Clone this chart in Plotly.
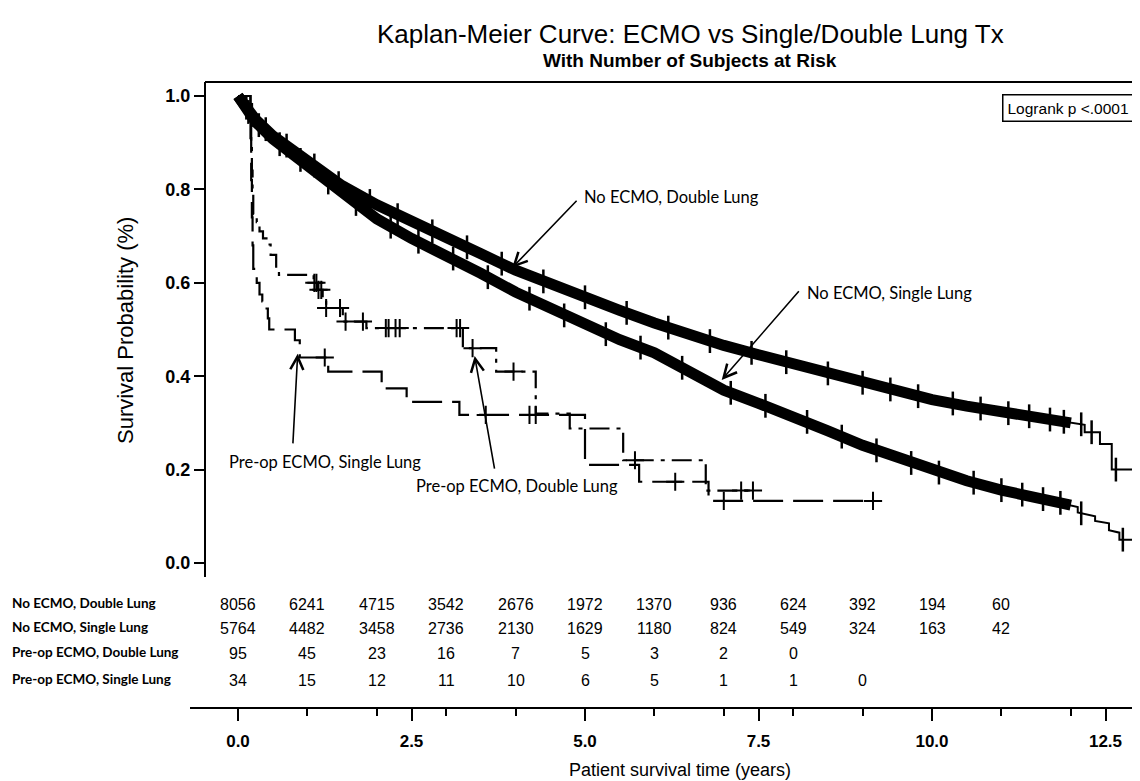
import numpy as np
import plotly.graph_objects as go

# ---------------- data ----------------
# No ECMO, Double Lung (survival curve vertices, years / probability)
dl_t = [0, 0.12, 0.25, 0.5, 1.0, 1.5, 2.0, 2.5, 3.0, 3.5, 4.0, 4.5, 5.0, 5.5, 6.0, 6.5, 7.0,
        7.5, 8.0, 8.5, 9.0, 9.5, 10.0, 10.5, 11.0, 11.5, 12.0, 12.2, 12.2, 12.42, 12.42,
        12.59, 12.59, 12.95]
dl_s = [1.0, 0.975, 0.95, 0.915, 0.862, 0.808, 0.767, 0.73, 0.697, 0.662, 0.627, 0.597,
        0.569, 0.541, 0.514, 0.489, 0.466, 0.446, 0.426, 0.406, 0.386, 0.368, 0.35, 0.336,
        0.323, 0.312, 0.300, 0.296, 0.28, 0.28, 0.255, 0.255, 0.20, 0.20]
dl_cens = [0.12, 0.2, 0.4, 0.7, 1.1, 1.45, 1.9, 2.3, 2.8, 3.3, 3.8, 4.4, 5.0, 5.6, 6.2, 6.8,
           7.4, 7.9, 8.5, 9.0, 9.4, 9.8, 10.3, 10.7, 11.1, 11.4, 11.7, 11.9, 12.15, 12.3,
           12.65, 12.95]

# No ECMO, Single Lung
sl_t = [0, 0.12, 0.25, 0.5, 1.0, 1.5, 2.0, 2.5, 3.0, 3.5, 4.0, 4.5, 5.0, 5.5, 6.0, 6.5, 7.0,
        7.5, 8.0, 8.5, 9.0, 9.5, 10.0, 10.5, 11.0, 11.5, 12.0, 12.1, 12.1, 12.35, 12.35,
        12.55, 12.55, 12.7, 12.7, 12.95]
sl_s = [1.0, 0.972, 0.945, 0.908, 0.852, 0.79, 0.737, 0.695, 0.66, 0.62, 0.58, 0.545, 0.508,
        0.478, 0.45, 0.41, 0.37, 0.342, 0.315, 0.283, 0.252, 0.225, 0.198, 0.176, 0.156,
        0.14, 0.124, 0.12, 0.108, 0.10, 0.09, 0.085, 0.07, 0.065, 0.05, 0.05]
sl_cens = [0.15, 0.3, 0.6, 0.9, 1.3, 1.7, 2.2, 2.6, 3.1, 3.6, 4.2, 4.7, 5.3, 5.8, 6.4, 7.1,
           7.6, 8.2, 8.7, 9.2, 9.7, 10.1, 10.6, 11.0, 11.3, 11.6, 11.85, 12.15, 12.75, 12.95]

# Pre-op ECMO, Double Lung (step function: value from each time onward)
pdl_t = [0, 0.18, 0.19, 0.2, 0.21, 0.22, 0.27, 0.31, 0.36, 0.41, 0.47, 0.55, 0.59, 1.09,
         1.15, 1.22, 1.27, 1.51, 1.85, 3.24, 3.72, 4.29, 4.78, 5.55, 6.74, 7.42]
pdl_s = [1.0, 0.95, 0.895, 0.84, 0.79, 0.747, 0.73, 0.71, 0.695, 0.682, 0.66, 0.632, 0.617,
         0.6, 0.585, 0.567, 0.546, 0.517, 0.503, 0.46, 0.41, 0.32, 0.288, 0.22, 0.155, 0.155]
pdl_cens = [1.1, 1.13, 1.16, 1.2, 1.27, 1.47, 1.55, 1.8, 2.13, 2.17, 2.27, 2.33, 3.15, 3.2,
            3.38, 3.97, 5.72, 7.25, 7.42]

# Pre-op ECMO, Single Lung
psl_t = [0, 0.18, 0.19, 0.2, 0.21, 0.22, 0.27, 0.31, 0.35, 0.39, 0.43, 0.45, 0.82, 0.89,
         1.3, 2.07, 2.43, 3.19, 5.0, 5.78, 6.78, 9.15]
psl_s = [1.0, 0.91, 0.82, 0.74, 0.68, 0.63, 0.6, 0.575, 0.56, 0.545, 0.524, 0.5, 0.477,
         0.44, 0.41, 0.374, 0.345, 0.317, 0.21, 0.174, 0.133, 0.133]
psl_cens = [1.25, 3.57, 4.2, 4.29, 6.3, 7.0, 9.15]

# number at risk table
risk_times = [0, 1, 2, 3, 4, 5, 6, 7, 8, 9, 10, 11]
risk_groups = ["No ECMO, Double Lung", "No ECMO, Single Lung",
               "Pre-op ECMO, Double Lung", "Pre-op ECMO, Single Lung"]
risk_dl = [8056, 6241, 4715, 3542, 2676, 1972, 1370, 936, 624, 392, 194, 60]
risk_sl = [5764, 4482, 3458, 2736, 2130, 1629, 1180, 824, 549, 324, 163, 42]
risk_pdl = [95, 45, 23, 16, 7, 5, 3, 2, 0]
risk_psl = [34, 15, 12, 11, 10, 6, 5, 1, 1, 0]

x_ticks = [0, 2.5, 5, 7.5, 10, 12.5]
x_ticktext = ["0.0", "2.5", "5.0", "7.5", "10.0", "12.5"]
y_ticks = [0, 0.2, 0.4, 0.6, 0.8, 1.0]
y_ticktext = ["0.0", "0.2", "0.4", "0.6", "0.8", "1.0"]

# ---------------- layout geometry (page pixels) ----------------
OFF = 8                      # default page body margin
W, H = 1140 - OFF, 781 - OFF
X0, X1, Y0, Y1 = 190, 1140, 82, 708   # plot box on the page
L, T = X0 - OFF, Y0 - OFF
B = H - (Y1 - OFF)
PW, PH = X1 - X0, Y1 - Y0
T0, PXY = 238, 69.4          # page x of year 0, pixels per year
S0, PXS = 563, 467           # page y of probability 0, pixels per unit


def px(xp):
    return (xp - X0) / PW


def py(yp):
    return (Y1 - yp) / PH


ARIAL = "Liberation Sans, Arial, sans-serif"
CAL = "Lato, Open Sans, sans-serif"


def step_at(ts, ss, q):
    ts = np.asarray(ts); ss = np.asarray(ss)
    idx = np.searchsorted(ts, np.asarray(q), side="right") - 1
    return ss[idx]


fig = go.Figure()

# No ECMO curves: dense censoring makes thick bands
for t, s, c in [(dl_t, dl_s, dl_cens), (sl_t, sl_s, sl_cens)]:
    t = np.asarray(t); s = np.asarray(s)
    m = t <= 12.05
    fig.add_trace(go.Scatter(x=t[m], y=s[m], mode="lines",
                             line=dict(color="black", width=11), hoverinfo="skip"))
    fig.add_trace(go.Scatter(x=t, y=s, mode="lines",
                             line=dict(color="black", width=2), hoverinfo="skip"))
    fig.add_trace(go.Scatter(x=c, y=np.interp(c, t, s), mode="markers",
                             marker=dict(symbol="line-ns", size=17, color="black",
                                         line=dict(color="black", width=2.5)),
                             hoverinfo="skip"))

# Pre-op ECMO curves (step functions)
for t, s, c, dash in [(pdl_t, pdl_s, pdl_cens, "20px,7px,4px,7px"),
                      (psl_t, psl_s, psl_cens, "30px,10px")]:
    fig.add_trace(go.Scatter(x=t, y=s, mode="lines", line_shape="hv",
                             line=dict(color="black", width=2.2, dash=dash),
                             hoverinfo="skip"))
    fig.add_trace(go.Scatter(x=c, y=step_at(t, s, c), mode="markers",
                             marker=dict(symbol="cross-thin", size=13, color="black",
                                         line=dict(color="black", width=2)),
                             hoverinfo="skip"))

C = dict(xanchor="center", yanchor="middle", showarrow=False)
ann = []
# titles
ann.append(dict(xref="paper", yref="paper", x=px(690), y=py(34), **C,
                text="Kaplan-Meier Curve: ECMO vs Single/Double Lung Tx",
                font=dict(family=ARIAL, size=26, color="black")))
ann.append(dict(xref="paper", yref="paper", x=px(690), y=py(60), **C,
                text="<b>With Number of Subjects at Risk</b>",
                font=dict(family=ARIAL, size=19, color="black")))
ann.append(dict(xref="paper", yref="paper", x=px(125), y=py(331), **C,
                text="Survival Probability (%)", textangle=-90,
                font=dict(family=ARIAL, size=22, color="black")))
ann.append(dict(xref="paper", yref="paper", x=px(680), y=py(770), **C,
                text="Patient survival time (years)",
                font=dict(family=ARIAL, size=18, color="black")))
# logrank box
ann.append(dict(xref="paper", yref="paper", x=px(1134), y=py(108), xanchor="right",
                yanchor="middle", showarrow=False, text="Logrank p <.0001",
                font=dict(family=ARIAL, size=15.5, color="black"),
                bordercolor="black", borderwidth=1.5, borderpad=4, bgcolor="white"))

# risk table
row_y = [py(604), py(628), py(653), py(680)]
for g, yy, vals in zip(risk_groups, row_y, [risk_dl, risk_sl, risk_pdl, risk_psl]):
    ann.append(dict(xref="paper", yref="paper", x=px(10), y=yy + 0.002, xanchor="left",
                    yanchor="middle", showarrow=False, text="<b>" + g + "</b>",
                    font=dict(family=CAL, size=13.5, color="black")))
    for tt, v in zip(risk_times, vals):
        ann.append(dict(xref="x", yref="paper", x=tt, y=yy, **C,
                        text=str(v), font=dict(family=ARIAL, size=16, color="black")))

# curve labels with arrows: text (t, s, anchor), arrow head (t, s), arrow tail (t, s)
labels = [
    ("No ECMO, Double Lung", 4.96, 0.784, "left", 3.95, 0.632, 4.90, 0.779),
    ("No ECMO, Single Lung", 8.17, 0.578, "left", 6.97, 0.392, 8.10, 0.585),
    ("Pre-op ECMO, Single Lung", 1.25, 0.216, "center", 0.86, 0.448, 0.79, 0.253),
    ("Pre-op ECMO, Double Lung", 4.02, 0.165, "center", 3.41, 0.443, 3.70, 0.199),
]
for txt, tx, ty, anc, hx, hy, ax_, ay_ in labels:
    ann.append(dict(xref="x", yref="y", x=tx, y=ty, showarrow=False, text=txt,
                    xanchor=anc, yanchor="middle",
                    font=dict(family=CAL, size=16.5, color="black")))
    ann.append(dict(xref="x", yref="y", x=hx, y=hy, axref="x", ayref="y", ax=ax_, ay=ay_,
                    text="", showarrow=True, arrowhead=5, arrowsize=1.6, arrowwidth=1.6,
                    arrowcolor="black"))

fig.update_layout(
    width=W, height=H, margin=dict(l=L, r=0, t=T, b=B, pad=0),
    paper_bgcolor="white", plot_bgcolor="white", showlegend=False,
    annotations=ann,
    shapes=[dict(type="line", xref="paper", yref="paper", x0=px(205), x1=1, y0=1, y1=1,
                 line=dict(color="black", width=2))],
    xaxis=dict(range=[(X0 - T0) / PXY, (X1 - T0) / PXY], tickmode="array",
               tickvals=x_ticks, ticktext=x_ticktext, ticks="outside", ticklen=12,
               tickwidth=2, tickcolor="black", showline=True, linewidth=2, linecolor="black",
               showgrid=False, zeroline=False, anchor="free", position=0,
               tickfont=dict(family=ARIAL, size=17, color="black", weight="bold"),
               ticklabelstandoff=6,
               minor=dict(dtick=1, tick0=0, ticks="outside", ticklen=7, tickwidth=1.5,
                          tickcolor="black", showgrid=False)),
    yaxis=dict(domain=[py(577), 1], range=[(S0 - 577) / PXS, (S0 - Y0) / PXS],
               tickmode="array", tickvals=y_ticks, ticktext=y_ticktext, ticks="outside",
               ticklen=10, tickwidth=2, tickcolor="black", showline=True, linewidth=2,
               linecolor="black", showgrid=False, zeroline=False, anchor="free",
               position=px(205),
               tickfont=dict(family=ARIAL, size=18, color="black", weight="bold")),
)

fig.write_html("out.html")
